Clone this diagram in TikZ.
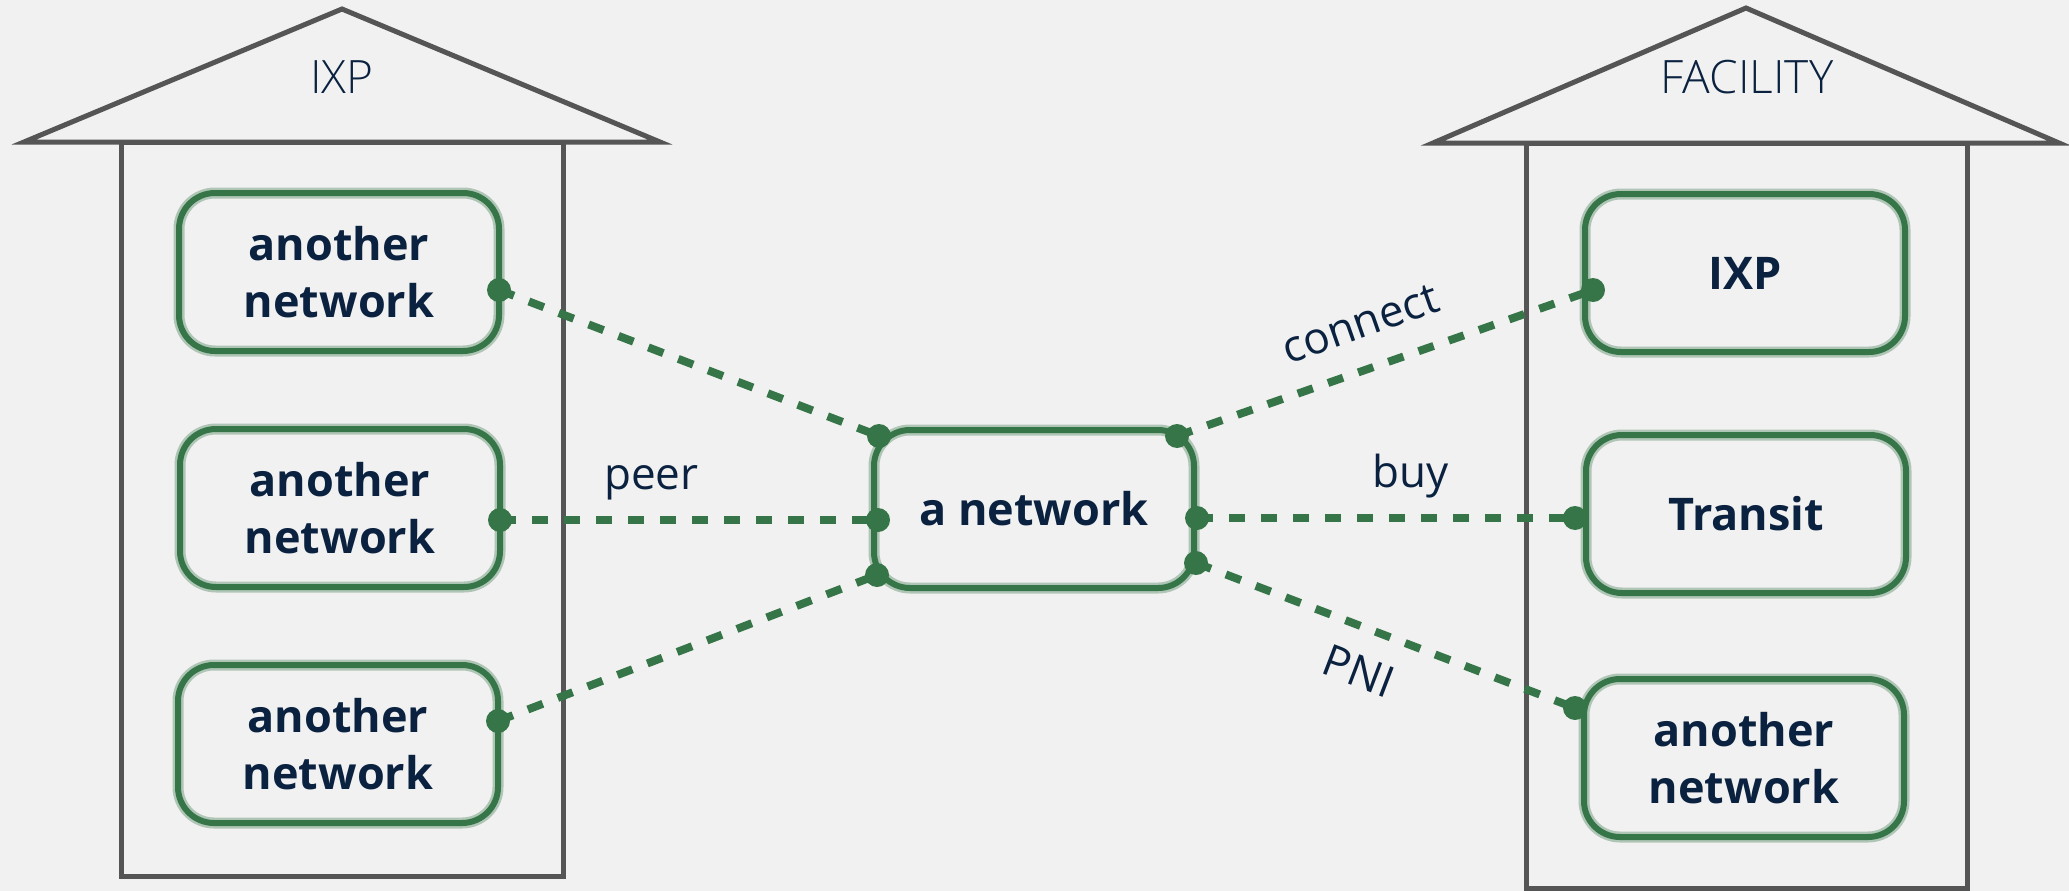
\documentclass[tikz,border=0pt]{standalone}
\usepackage{fontspec}
\setmainfont{Open Sans}
\IfFontExistsTF{Open Sans Light}{\newfontfamily\thinfont{Open Sans Light}}{\newfontfamily\thinfont{Open Sans}}
\usetikzlibrary{calc}
\definecolor{bgc}{HTML}{F1F1F1}
\definecolor{grn}{HTML}{367548}
\definecolor{navy}{HTML}{0A2240}
\definecolor{housec}{HTML}{555555}
\begin{document}
\begin{tikzpicture}[x=1pt,y=-1pt,
  netbox/.style={draw=grn, line width=6pt, rounded corners=36pt, minimum width=320pt,
    minimum height=158pt, inner sep=0pt, outer sep=0pt, align=center, text=navy,
    font=\fontsize{45pt}{57pt}\selectfont\bfseries},
  halo/.style={draw=grn, draw opacity=0.35, line width=11pt, rounded corners=36pt},
  housel/.style={draw=housec, line width=5pt, line join=miter},
  conn/.style={draw=grn, line width=8pt, dash pattern=on 16pt off 16pt},
  lab/.style={text=navy, font=\fontsize{44pt}{52pt}\selectfont, text depth=0pt, inner sep=3pt},
  rooflab/.style={text=navy, font=\thinfont\fontsize{46pt}{52pt}\selectfont}
]
\fill[bgc] (0,0) rectangle (2069,891);
\useasboundingbox (0,0) rectangle (2069,891);

% houses
\draw[housel] (24,142) -- (342,9) -- (660,142) -- cycle;
\draw[housel] (121,142) rectangle (563,876);
\node[rooflab] (ixpT) at (342,77) {IXP};
\draw[housel] (1433,143) -- (1746,8) -- (2059,143) -- cycle;
\draw[housel] (1526,143) rectangle (1967,888);
\node[rooflab] (facT) at (1747,77) {FACILITY};

% network boxes
\node[netbox] (L1) at (339,272) {another\\network};
\node[netbox] (L2) at (340,508) {another\\network};
\node[netbox] (L3) at (338,744) {another\\network};
\node[netbox] (C)  at (1034,509) {a network};
\node[netbox] (R1) at (1745,273) {IXP};
\node[netbox] (R2) at (1746,514) {Transit};
\node[netbox] (R3) at (1744,758) {another\\network};
\foreach \n in {L1,L2,L3,C,R1,R2,R3}
  \draw[halo] (\n.south west) rectangle (\n.north east);

% connector end points
\coordinate (pL1) at ($(L1.east)+(0,18)$);
\coordinate (pL2) at ($(L2.east)+(0,12)$);
\coordinate (pL3) at ($(L3.east)+(0,-23)$);
\coordinate (pC1) at ($(C.center)+(-155,-73)$);
\coordinate (pC2) at ($(C.west)+(4,11)$);
\coordinate (pC3) at ($(C.center)+(-157,66)$);
\coordinate (pC4) at ($(C.center)+(143,-73)$);
\coordinate (pC5) at ($(C.east)+(3,9)$);
\coordinate (pC6) at ($(C.east)+(2,54)$);
\coordinate (pR1) at ($(R1.west)+(8,17)$);
\coordinate (pR2) at ($(R2.west)+(-11,4)$);
\coordinate (pR3) at ($(R3.west)+(-9,-50)$);

% connectors
\draw[conn] (pL1) -- (pC1);
\draw[conn] (pL2) -- node[lab, above=24pt, pos=0.4] (peerL) {peer} (pC2);
\draw[conn] (pL3) -- (pC3);
\draw[conn] (pC4) -- node[lab, sloped, above=24pt, pos=0.477] (connL) {connect} (pR1);
\draw[conn] (pC5) -- node[lab, above=24pt, pos=0.565] (buyL) {buy} (pR2);
\draw[conn] (pC6) -- node[lab, sloped, below=20pt, pos=0.47] (pniL) {PNI} (pR3);

\foreach \p in {pL1,pL2,pL3,pC1,pC2,pC3,pC4,pC5,pC6,pR1,pR2,pR3}
  \fill[grn] (\p) circle (12);
\end{tikzpicture}
\end{document}
